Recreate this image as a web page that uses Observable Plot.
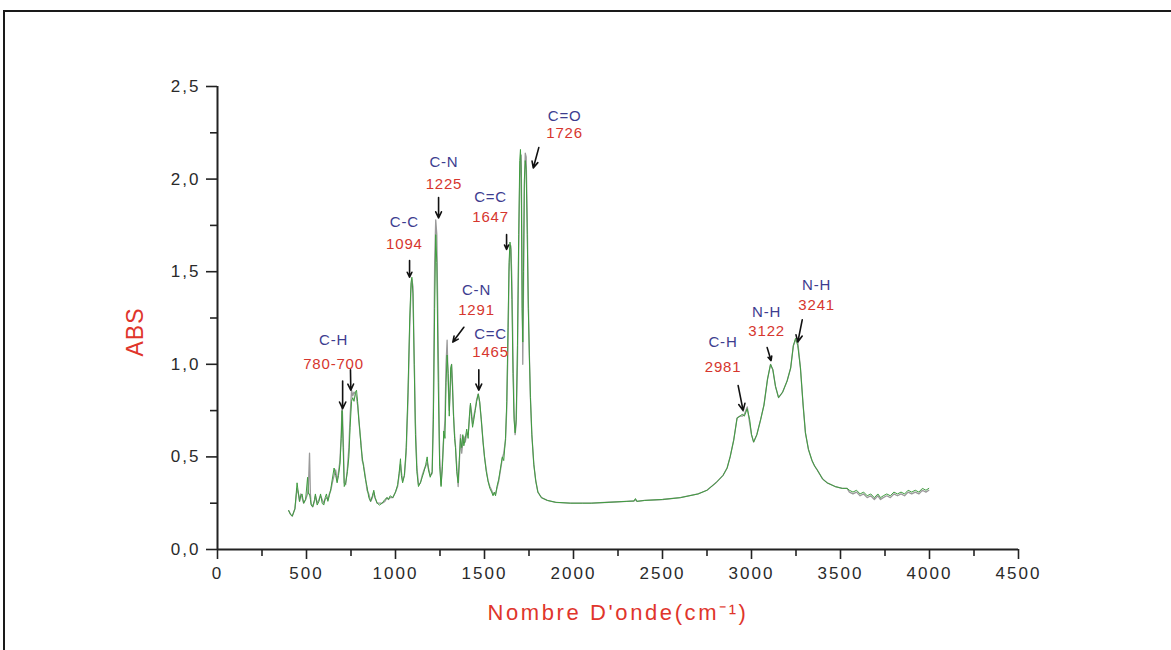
<!DOCTYPE html>
<html><head><meta charset="utf-8">
<script src="https://cdn.jsdelivr.net/npm/d3@7"></script>
<script src="https://cdn.jsdelivr.net/npm/@observablehq/plot@0.6"></script>
<style>
html,body{margin:0;padding:0;background:#fff;width:1171px;height:650px;overflow:hidden;}
#chart{position:absolute;left:0;top:0;}
#frame{position:absolute;left:3px;top:10px;width:1300px;height:800px;border-left:2px solid #1a1a1a;border-top:2px solid #1a1a1a;pointer-events:none;}
</style></head><body>
<div id="chart"></div><div id="frame"></div>
<script>
// ---- Spectrum data (wavenumber cm-1, absorbance) ----
const wavenumber = [400,410,420,435,447,455,461,468,475,484,495,506,511,517,522,526,535,545,550,560,570,579,588,597,605,612,620,628,637,645,655,664,672,680,688,695,700,706,712,720,730,738,745,753,760,767,775,781,787,793,800,806,813,820,831,840,850,860,870,878,885,897,910,925,940,953,960,970,985,1000,1012,1020,1028,1033,1040,1050,1060,1070,1080,1087,1092,1098,1105,1112,1120,1129,1140,1150,1160,1170,1178,1185,1195,1206,1213,1220,1226,1232,1240,1248,1256,1264,1271,1278,1284,1290,1296,1302,1310,1315,1321,1326,1332,1337,1344,1352,1358,1365,1372,1378,1384,1392,1400,1408,1415,1421,1427,1433,1440,1448,1456,1465,1473,1482,1492,1500,1510,1520,1530,1540,1548,1555,1562,1570,1580,1590,1600,1608,1618,1625,1632,1638,1643,1648,1654,1660,1666,1672,1678,1685,1692,1698,1702,1706,1711,1715,1719,1724,1729,1734,1740,1746,1752,1758,1766,1777,1788,1800,1820,1853,1900,1983,2050,2100,2200,2300,2340,2348,2356,2400,2500,2600,2700,2750,2800,2840,2863,2880,2900,2919,2935,2948,2960,2976,2990,3000,3012,3030,3051,3070,3090,3107,3120,3135,3152,3175,3200,3220,3235,3247,3260,3275,3290,3303,3320,3340,3355,3369,3400,3425,3470,3510,3537,3550,3570,3590,3610,3630,3650,3670,3690,3710,3725,3740,3760,3780,3800,3820,3840,3860,3880,3900,3920,3940,3960,3980,3996];
const absGreen = [0.21,0.19,0.18,0.22,0.36,0.30,0.26,0.29,0.30,0.25,0.27,0.39,0.30,0.30,0.27,0.24,0.23,0.27,0.30,0.24,0.26,0.30,0.25,0.24,0.28,0.30,0.26,0.29,0.33,0.38,0.44,0.40,0.36,0.40,0.46,0.60,0.75,0.55,0.34,0.36,0.42,0.50,0.66,0.80,0.82,0.80,0.85,0.86,0.80,0.71,0.64,0.56,0.50,0.45,0.38,0.34,0.28,0.26,0.29,0.32,0.28,0.25,0.24,0.25,0.27,0.28,0.27,0.29,0.28,0.31,0.35,0.41,0.49,0.40,0.36,0.40,0.55,0.85,1.25,1.44,1.47,1.38,1.00,0.62,0.42,0.34,0.36,0.39,0.42,0.46,0.50,0.43,0.39,0.42,0.70,1.30,1.70,1.55,0.90,0.45,0.34,0.45,0.64,0.60,0.90,1.05,0.95,0.72,0.98,1.00,0.85,0.72,0.60,0.55,0.42,0.36,0.48,0.60,0.55,0.62,0.56,0.60,0.65,0.60,0.72,0.79,0.72,0.66,0.70,0.75,0.80,0.84,0.80,0.70,0.58,0.50,0.42,0.37,0.33,0.31,0.29,0.31,0.29,0.34,0.38,0.44,0.50,0.48,0.60,0.80,1.20,1.55,1.66,1.62,1.35,0.95,0.70,0.63,0.70,1.10,1.70,2.10,2.16,2.05,1.30,1.12,1.50,2.00,2.10,2.05,1.70,1.30,1.05,0.82,0.62,0.46,0.37,0.31,0.28,0.265,0.255,0.25,0.25,0.25,0.255,0.26,0.262,0.275,0.26,0.265,0.27,0.28,0.30,0.32,0.36,0.40,0.44,0.50,0.59,0.71,0.72,0.73,0.72,0.76,0.70,0.62,0.58,0.62,0.70,0.78,0.92,1.00,0.97,0.88,0.82,0.85,0.91,0.98,1.10,1.14,1.10,0.98,0.78,0.63,0.54,0.48,0.45,0.43,0.38,0.36,0.34,0.33,0.33,0.32,0.31,0.32,0.30,0.31,0.29,0.30,0.28,0.30,0.28,0.29,0.30,0.29,0.31,0.30,0.31,0.30,0.32,0.31,0.32,0.31,0.33,0.32,0.33];
const absGray = [0.21,0.19,0.18,0.22,0.33,0.30,0.26,0.30,0.28,0.25,0.27,0.30,0.35,0.52,0.30,0.25,0.23,0.26,0.29,0.25,0.27,0.29,0.27,0.25,0.27,0.28,0.27,0.30,0.32,0.36,0.40,0.43,0.37,0.42,0.48,0.62,0.79,0.62,0.36,0.35,0.44,0.55,0.72,0.86,0.83,0.85,0.84,0.82,0.78,0.72,0.63,0.58,0.48,0.46,0.39,0.32,0.30,0.26,0.28,0.31,0.28,0.25,0.25,0.25,0.26,0.28,0.27,0.28,0.28,0.31,0.34,0.40,0.46,0.42,0.37,0.40,0.52,0.80,1.20,1.40,1.46,1.42,1.05,0.68,0.45,0.35,0.36,0.40,0.43,0.45,0.47,0.44,0.40,0.41,0.80,1.55,1.78,1.70,1.10,0.50,0.35,0.48,0.60,0.70,1.00,1.13,0.90,0.75,0.92,1.00,0.88,0.73,0.62,0.56,0.45,0.34,0.45,0.62,0.52,0.58,0.61,0.58,0.63,0.62,0.70,0.78,0.74,0.68,0.72,0.76,0.81,0.84,0.79,0.70,0.58,0.50,0.43,0.37,0.34,0.32,0.30,0.30,0.30,0.33,0.37,0.43,0.49,0.52,0.59,0.76,1.10,1.50,1.62,1.64,1.45,1.05,0.75,0.62,0.68,1.00,1.60,2.00,2.10,2.13,1.60,1.00,1.40,1.95,2.14,2.12,1.80,1.35,1.05,0.82,0.62,0.46,0.37,0.31,0.28,0.265,0.255,0.25,0.25,0.25,0.255,0.26,0.262,0.27,0.26,0.265,0.27,0.28,0.30,0.32,0.36,0.40,0.44,0.50,0.59,0.71,0.72,0.72,0.73,0.77,0.68,0.62,0.58,0.62,0.70,0.78,0.92,1.00,0.97,0.88,0.82,0.85,0.91,0.98,1.10,1.13,1.12,0.98,0.78,0.63,0.54,0.48,0.45,0.43,0.38,0.36,0.34,0.33,0.33,0.31,0.30,0.31,0.29,0.30,0.28,0.29,0.27,0.29,0.27,0.28,0.29,0.28,0.30,0.29,0.30,0.29,0.31,0.30,0.31,0.30,0.32,0.31,0.32];

// ---- Axis ticks ----
const xTicks = [0,500,1000,1500,2000,2500,3000,3500,4000,4500];
const xMinorTicks = [250,750,1250,1750,2250,2750,3250,3750,4250];
const yTicks = [0,0.5,1.0,1.5,2.0,2.5];
const yMinorTicks = [0.25,0.75,1.25,1.75,2.25];

// ---- Peak annotations ----
const annoBond = ["C-H","C-C","C-N","C=C","C=O","C-N","C=C","C-H","N-H","N-H"];
const annoWave = ["780-700","1094","1225","1647","1726","1291","1465","2981","3122","3241"];
const annoX = [652,1050,1272,1534,1950,1455,1534,2840,3085,3366];
const annoYBond = [1.13,1.77,2.09,1.905,2.34,1.40,1.165,1.12,1.28,1.425];
const annoYWave = [1.00,1.65,1.975,1.795,2.25,1.29,1.065,0.985,1.18,1.317];

// ---- Arrows (tail -> head) ----
const arrowX1 = [703,747,1079,1242,1624,1805,1384,1468,2925,3088,3285];
const arrowY1 = [0.91,0.97,1.56,1.90,1.70,2.17,1.20,0.97,0.885,1.09,1.24];
const arrowX2 = [703,749,1079,1242,1624,1774,1322,1468,2953,3110,3260];
const arrowY2 = [0.76,0.86,1.47,1.79,1.62,2.06,1.12,0.86,0.75,1.02,1.12];

const green = wavenumber.map((w,i)=>({wn:w, abs:absGreen[i]}));
const gray = wavenumber.map((w,i)=>({wn:w, abs:absGray[i]}));
const annoIdx = d3.range(annoBond.length);
const arrowIdx = d3.range(arrowX1.length);

const font = "'Liberation Sans', Arial, Helvetica, sans-serif";
const axisColor = "#222";

const chart = Plot.plot({
  width: 1171, height: 650,
  marginLeft: 217, marginRight: 153, marginTop: 86, marginBottom: 101,
  x: {domain: [0, 4500]},
  y: {domain: [0, 2.5]},
  style: {fontFamily: font, background: "transparent"},
  marks: [
    Plot.line(gray, {x: "wn", y: "abs", stroke: "#9a9a9a", strokeWidth: 1.3}),
    Plot.line(green, {x: "wn", y: "abs", stroke: "#3f9c3f", strokeWidth: 1}),
    Plot.ruleY([0], {stroke: axisColor, strokeWidth: 2}),
    Plot.ruleX([0], {stroke: axisColor, strokeWidth: 2}),
    Plot.axisX({ticks: xTicks, tickSize: 10, tickPadding: 7, tickFormat: d => String(d), fontSize: 17, stroke: axisColor, fill: "#2a2a2a", strokeWidth: 1.6, label: null}),
    Plot.axisX({ticks: xMinorTicks, tickSize: 7, tickFormat: () => "", stroke: axisColor, strokeWidth: 1.6, label: null}),
    Plot.axisY({ticks: yTicks, tickSize: 11, tickPadding: 6, tickFormat: d => d.toFixed(1).replace(".", ","), fontSize: 17, stroke: axisColor, fill: "#2a2a2a", strokeWidth: 1.6, label: null}),
    Plot.axisY({ticks: yMinorTicks, tickSize: 7, tickFormat: () => "", stroke: axisColor, strokeWidth: 1.6, label: null}),
    Plot.arrow(arrowIdx, {x1: i => arrowX1[i], y1: i => arrowY1[i], x2: i => arrowX2[i], y2: i => arrowY2[i], stroke: "#111", strokeWidth: 1.6, headLength: 7, headAngle: 50}),
    Plot.text(annoIdx, {x: i => annoX[i], y: i => annoYBond[i], text: i => annoBond[i], fill: "#3d3d8f", fontSize: 15}),
    Plot.text(annoIdx, {x: i => annoX[i], y: i => annoYWave[i], text: i => annoWave[i], fill: "#d6362e", fontSize: 15}),
    Plot.text(["ABS"], {frameAnchor: "left", dx: -82, dy: 14, rotate: -90, textAnchor: "middle", lineAnchor: "middle", fill: "#e0352b", fontSize: 23}),
    Plot.text(["Nombre D'onde(cm⁻¹)"], {frameAnchor: "bottom", dy: 63, textAnchor: "middle", lineAnchor: "middle", fill: "#e0352b", fontSize: 22})
  ]
});
document.getElementById("chart").appendChild(chart);
// widen text spacing to match the reference's broad lettering
const svg = d3.select(chart);
svg.selectAll("text").each(function() {
  const t = this.textContent;
  const parentLabel = this.parentNode.getAttribute("aria-label") || "";
  if (parentLabel.includes("tick label")) d3.select(this).style("letter-spacing", "2px");
  else if (t.startsWith("Nombre")) d3.select(this).style("letter-spacing", "2.6px");
  else if (t === "ABS") d3.select(this).style("letter-spacing", "1px");
  else d3.select(this).style("letter-spacing", "0.8px");
});
</script></body></html>
